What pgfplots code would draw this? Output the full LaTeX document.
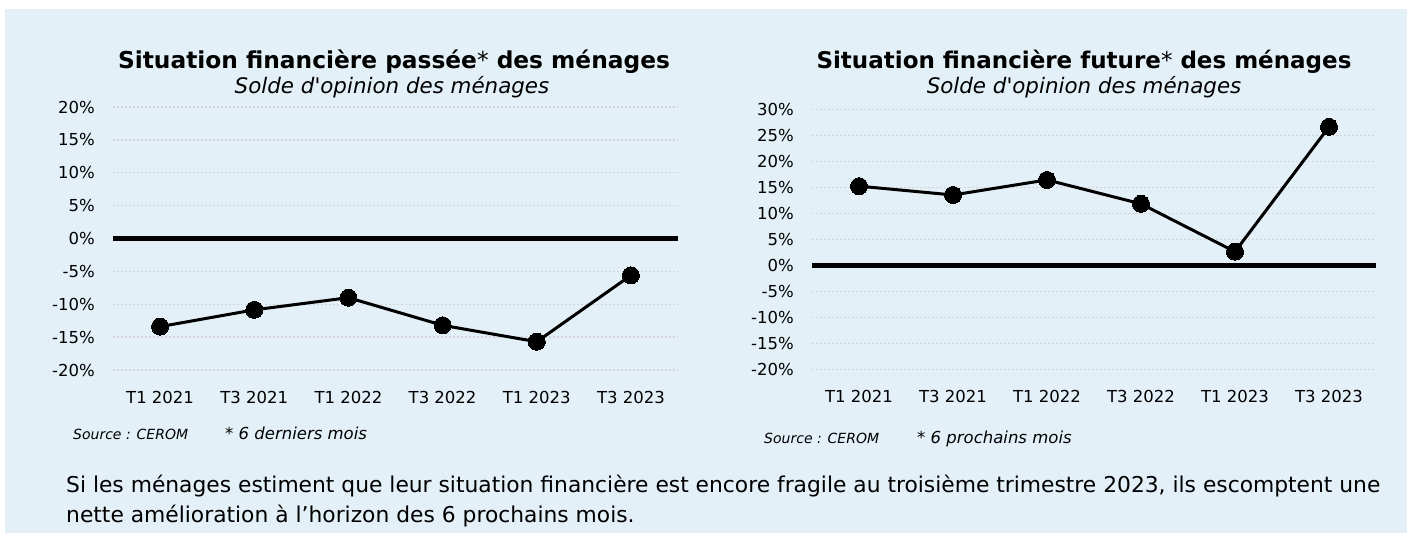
\documentclass[border=0pt]{standalone}
\usepackage{fontspec}
\setmainfont{DejaVu Sans}
\usepackage{pgfplots}
\pgfplotsset{compat=1.18}
\definecolor{bg}{RGB}{227,240,247}
\definecolor{gridc}{RGB}{212,212,212}
\begin{document}
\begin{tikzpicture}[x=1pt,y=1pt]
\fill[white] (0pt,0pt) rectangle (1407pt,-533pt);
\fill[bg] (5pt,-9pt) rectangle (1407pt,-533pt);
\pgfplotsset{myax/.style={
  scale only axis, xmin=-0.5, xmax=5.5,
  axis line style={draw=none}, major tick style={draw=none},
  xtick={0,...,5},
  xticklabels={T1 2021,T3 2021,T1 2022,T3 2022,T1 2023,T3 2023},
  ymajorgrids,
  grid style={line width=1.3pt, color=gridc, dash pattern=on 2pt off 2pt},
  yticklabel={\pgfmathprintnumber{\tick}\%},
  /pgf/number format/assume math mode=true,
  tick label style={font=\fontsize{16.5}{19}\selectfont},
  yticklabel style={anchor=east, inner sep=0pt, xshift=-18pt},
  xticklabel style={anchor=center, inner sep=0pt, yshift=-27pt},
  clip=false,
}}
\begin{axis}[myax, at={(113pt,-370pt)}, anchor=south west, width=565pt, height=263pt,
  ymin=-20, ymax=20, ytick={-20,-15,...,20}]
\addplot[black, line width=5pt, forget plot] coordinates {(-0.5,0) (5.5,0)};
\addplot[black, line width=3pt, mark=*, mark size=8.5pt, mark options={line width=0pt}]
  coordinates {(0,-13.4) (1,-10.85) (2,-9.0) (3,-13.2) (4,-15.7) (5,-5.6)};
\end{axis}
\begin{axis}[myax, at={(812pt,-369.7pt)}, anchor=south west, width=564pt, height=260pt,
  ymin=-20, ymax=30, ytick={-20,-15,...,30}]
\addplot[black, line width=5pt, forget plot] coordinates {(-0.5,0) (5.5,0)};
\addplot[black, line width=3pt, mark=*, mark size=8.5pt, mark options={line width=0pt}]
  coordinates {(0,15.3) (1,13.6) (2,16.5) (3,11.9) (4,2.7) (5,26.7)};
\end{axis}
\node[anchor=base, inner sep=0pt, font=\fontsize{23.3}{27}\selectfont\bfseries] at (394pt,-68pt)
  {Situation financière passée{\mdseries*} des ménages};
\node[anchor=base, inner sep=0pt, font=\fontsize{21.4}{25}\selectfont\itshape] at (392pt,-93pt)
  {Solde d\textquotesingle opinion des ménages};
\node[anchor=base, inner sep=0pt, font=\fontsize{23}{27}\selectfont\bfseries] at (1084pt,-68pt)
  {Situation financière future{\mdseries*} des ménages};
\node[anchor=base, inner sep=0pt, font=\fontsize{21.4}{25}\selectfont\itshape] at (1084pt,-93pt)
  {Solde d\textquotesingle opinion des ménages};
\node[anchor=base west, inner sep=0pt, font=\fontsize{14}{17}\selectfont\itshape] at (73pt,-439pt) {Source : CEROM};
\node[anchor=base west, inner sep=0pt, font=\fontsize{16.5}{20}\selectfont\itshape] at (225pt,-439pt) {* 6 derniers mois};
\node[anchor=base west, inner sep=0pt, font=\fontsize{14}{17}\selectfont\itshape] at (764pt,-443pt) {Source : CEROM};
\node[anchor=base west, inner sep=0pt, font=\fontsize{16.5}{20}\selectfont\itshape] at (917pt,-443pt) {* 6 prochains mois};
\node[anchor=base west, inner sep=0pt, font=\fontsize{21.8}{26}\selectfont] at (66pt,-492pt)
  {Si les ménages estiment que leur situation financière est encore fragile au troisième trimestre 2023, ils escomptent une};
\node[anchor=base west, inner sep=0pt, font=\fontsize{21.8}{26}\selectfont] at (66pt,-522pt)
  {nette amélioration à l’horizon des 6 prochains mois.};
\path[use as bounding box] (0pt,0pt) rectangle (1407pt,-533pt);
\end{tikzpicture}
\end{document}
